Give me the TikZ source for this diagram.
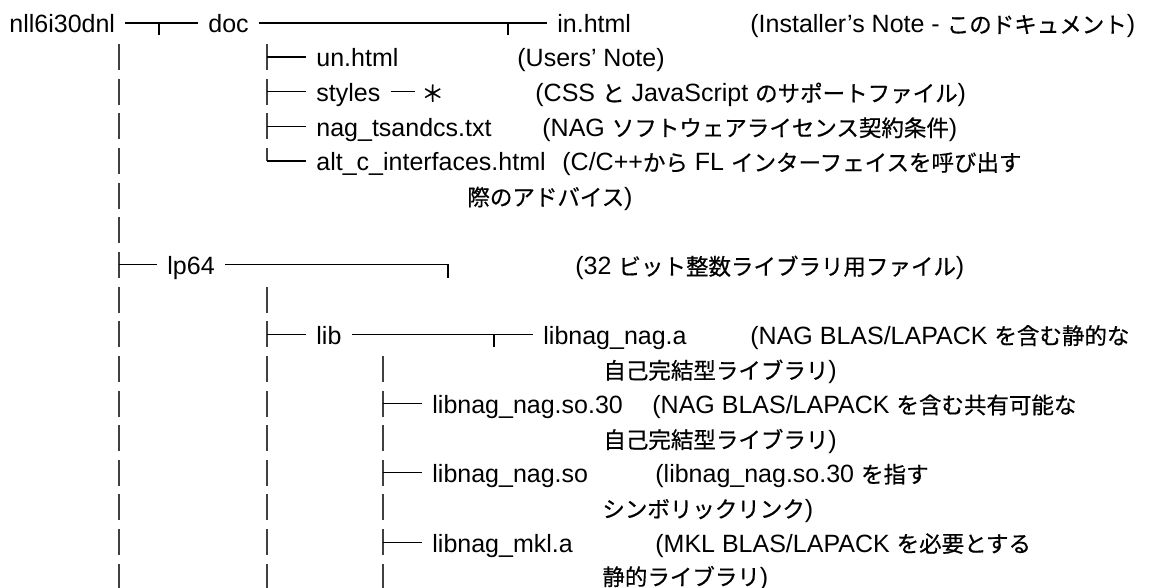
\documentclass[tikz,border=0pt]{standalone}
\usepackage{fontspec}
\setmainfont{Liberation Sans}
\newfontfamily\jp{Noto Sans CJK JP}[Scale=0.9, FakeBold=0.5]
\usetikzlibrary{calc}
\tikzset{
  entry/.style = {anchor=west, inner xsep=5pt, inner ysep=0pt, text height=11pt,
                  text depth=1pt, font=\fontsize{12.5}{15}\selectfont},
  note/.style  = {entry},
  hline/.style = {draw=black, line width=0.55pt},
  vbar/.style  = {draw=black!75, line width=0.7pt, dash pattern=on 13pt off 4.325pt},
}

\begin{document}
\begin{tikzpicture}[x=0.5pt, y=-0.5pt]
  \path[use as bounding box, fill=white] (0,0) rectangle (1162,588);

  % top level
  \node[entry] (root)   at (-1,23)  {nll6i30dnl};
  \node[entry] (doc)    at (198,23) {doc};
  \node[entry] (inhtml) at (547,23) {in.html};
  \node[note]  (nInst)  at (740,23) {(Installer’s Note - {\jp このドキュメント})};

  % doc
  \node[entry] (unhtml)  at (306,57)    {un.html};
  \node[note]  (nUsers)  at (507,57)    {(Users’ Note)};
  \node[entry] (styles)  at (306,91.7)  {styles};
  \node[entry, inner xsep=3pt] (star) at (415,91.7) {\jp ＊};
  \node[note]  (nCss)    at (525,91.7)  {(CSS {\jp と} JavaScript {\jp のサポートファイル})};
  \node[entry] (tsandcs) at (306,126.3) {nag\_tsandcs.txt};
  \node[note]  (nLic)    at (532,126.3) {(NAG {\jp ソフトウェアライセンス契約条件})};
  \node[entry] (altc)    at (306,161)   {alt\_c\_interfaces.html};
  \node[note]  (nAltc)   at (552,161)   {(C/C++{\jp から} FL {\jp インターフェイスを呼び出す}};
  \node[note]  (nAltcB)  at (457,195.6) {{\jp 際のアドバイス})};

  % lp64
  \node[entry] (lp64)  at (157,264.9) {lp64};
  \node[note]  (nLp64) at (565,264.9) {(32 {\jp ビット整数ライブラリ用ファイル})};

  % lib
  \node[entry] (lib)       at (306,334.2) {lib};
  \node[entry] (nagA)      at (533,334.2) {libnag\_nag.a};
  \node[note]  (nNagA)     at (740,334.2) {(NAG BLAS/LAPACK {\jp を含む静的な}};
  \node[note]  (nNagAB)    at (593,368.9) {{\jp 自己完結型ライブラリ})};
  \node[entry] (nagSo30)   at (422,403.5) {libnag\_nag.so.30};
  \node[note]  (nNagSo30)  at (642,403.5) {(NAG BLAS/LAPACK {\jp を含む共有可能な}};
  \node[note]  (nNagSo30B) at (593,438.2) {{\jp 自己完結型ライブラリ})};
  \node[entry] (nagSo)     at (422,472.8) {libnag\_nag.so};
  \node[note]  (nNagSo)    at (645,472.8) {(libnag\_nag.so.30 {\jp を指す}};
  \node[note]  (nNagSoB)   at (592,507.5) {{\jp シンボリックリンク})};
  \node[entry] (mklA)      at (422,542.1) {libnag\_mkl.a};
  \node[note]  (nMklA)     at (645,542.1) {(MKL BLAS/LAPACK {\jp を必要とする}};
  \node[note]  (nMklAB)    at (592,575.3) {{\jp 静的ライブラリ})};

  \coordinate (colA) at (119,0);
  \coordinate (colB) at (267,0);
  \coordinate (colC) at (383,0);
  \coordinate (base) at (0,588);
  \coordinate (j1) at (159,23);
  \coordinate (j2) at (508,23);
  \coordinate (j3) at (448,264.9);
  \coordinate (j4) at (494,334.2);

  % vertical bars
  \draw[vbar] ($(colA |- unhtml)+(0,-13)$) -- (colA |- base);
  \draw[vbar] ($(colB |- unhtml)+(0,-13)$) -- (colB |- altc);
  \draw[vbar] ($(colB |- lib)+(0,-47.65)$) -- (colB |- base);
  \draw[vbar] ($(colC |- nagSo30)+(0,-47.65)$) -- (colC |- base);

  % horizontal branches
  \draw[hline] (root) -- (doc);
  \draw[hline] (j1) -- ++(0,12);
  \draw[hline] (doc) -- (inhtml);
  \draw[hline] (j2) -- ++(0,12);
  \draw[hline] (styles) -- (star);
  \foreach \c in {unhtml,styles,tsandcs,altc}
    \draw[hline] (colB |- \c) -- (\c);
  \draw[hline] (colA |- lp64) -- (lp64);
  \draw[hline] (lp64) -- (j3) -- ++(0,13);
  \draw[hline] (colB |- lib) -- (lib);
  \draw[hline] (lib) -- (nagA);
  \draw[hline] (j4) -- ++(0,13);
  \foreach \c in {nagSo30,nagSo,mklA}
    \draw[hline] (colC |- \c) -- (\c);
\end{tikzpicture}
\end{document}
